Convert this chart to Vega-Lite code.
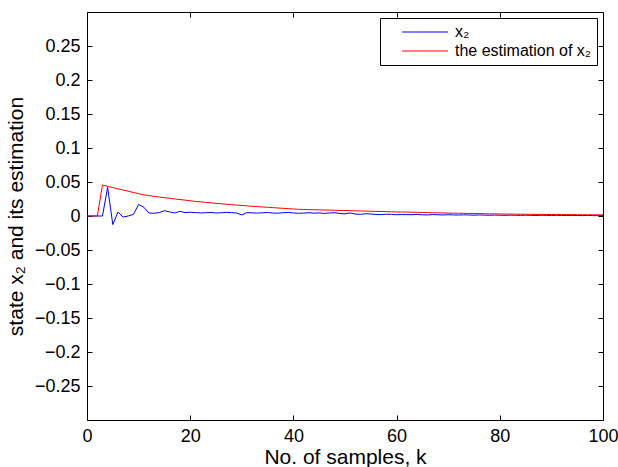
{
  "$schema": "https://vega.github.io/schema/vega-lite/v6.json",
  "width": 516,
  "height": 408,
  "autosize": {"type": "none"},
  "padding": {"left": 87, "top": 12, "right": 15, "bottom": 47},
  "background": "white",
  "config": {
    "font": "Liberation Sans",
    "view": {"stroke": "black", "strokeWidth": 1},
    "axis": {"grid": false, "domain": false, "tickColor": "black", "labelColor": "black", "titleColor": "black", "labelFontSize": 18, "titleFontSize": 21, "titleFontWeight": "normal", "tickSize": -5, "labelPadding": 12, "labelFlush": false, "labelOverlap": false}
  },
  "datasets": {
    "d": [
      {"k":0,"x2":0,"est":0},{"k":1,"x2":0,"est":0},{"k":2,"x2":0,"est":0},{"k":3,"x2":0,"est":0.0456},
      {"k":4,"x2":0.042,"est":0.0437},{"k":5,"x2":-0.0126,"est":0.0418},{"k":6,"x2":0.0058,"est":0.04},{"k":7,"x2":-0.0015,"est":0.0382},
      {"k":8,"x2":0.0,"est":0.0364},{"k":9,"x2":0.0024,"est":0.0346},{"k":10,"x2":0.017,"est":0.0328},{"k":11,"x2":0.013,"est":0.0312},
      {"k":12,"x2":0.0044,"est":0.03},{"k":13,"x2":0.004,"est":0.0289},{"k":14,"x2":0.005,"est":0.0279},{"k":15,"x2":0.0078,"est":0.0269},
      {"k":16,"x2":0.006,"est":0.026},{"k":17,"x2":0.0044,"est":0.0251},{"k":18,"x2":0.0068,"est":0.0242},{"k":19,"x2":0.005,"est":0.0233},
      {"k":20,"x2":0.0055,"est":0.0224},{"k":21,"x2":0.005,"est":0.0215},{"k":22,"x2":0.0045,"est":0.0208},{"k":23,"x2":0.0048,"est":0.0201},
      {"k":24,"x2":0.0052,"est":0.0194},{"k":25,"x2":0.0044,"est":0.0187},{"k":26,"x2":0.0047,"est":0.018},{"k":27,"x2":0.0053,"est":0.0173},
      {"k":28,"x2":0.0049,"est":0.0167},{"k":29,"x2":0.0045,"est":0.0161},{"k":30,"x2":0.0015,"est":0.0155},{"k":31,"x2":0.005,"est":0.0149},
      {"k":32,"x2":0.0046,"est":0.0143},{"k":33,"x2":0.0043,"est":0.0138},{"k":34,"x2":0.0047,"est":0.0133},{"k":35,"x2":0.0052,"est":0.0128},
      {"k":36,"x2":0.0044,"est":0.0123},{"k":37,"x2":0.0041,"est":0.0118},{"k":38,"x2":0.0048,"est":0.0113},{"k":39,"x2":0.0053,"est":0.0108},
      {"k":40,"x2":0.0045,"est":0.0103},{"k":41,"x2":0.004,"est":0.0098},{"k":42,"x2":0.0043,"est":0.0096},{"k":43,"x2":0.0048,"est":0.0094},
      {"k":44,"x2":0.0041,"est":0.0092},{"k":45,"x2":0.0046,"est":0.009},{"k":46,"x2":0.0038,"est":0.0088},{"k":47,"x2":0.0044,"est":0.0086},
      {"k":48,"x2":0.0049,"est":0.0084},{"k":49,"x2":0.0036,"est":0.0082},{"k":50,"x2":0.0032,"est":0.008},{"k":51,"x2":0.0045,"est":0.0078},
      {"k":52,"x2":0.0028,"est":0.0076},{"k":53,"x2":0.0025,"est":0.0074},{"k":54,"x2":0.0033,"est":0.0072},{"k":55,"x2":0.003,"est":0.007},
      {"k":56,"x2":0.0022,"est":0.0068},{"k":57,"x2":0.002,"est":0.0066},{"k":58,"x2":0.0026,"est":0.0064},{"k":59,"x2":0.0024,"est":0.0062},
      {"k":60,"x2":0.0018,"est":0.006},{"k":61,"x2":0.0022,"est":0.0059},{"k":62,"x2":0.002,"est":0.0058},{"k":63,"x2":0.0019,"est":0.0056},
      {"k":64,"x2":0.0023,"est":0.0054},{"k":65,"x2":0.0017,"est":0.0052},{"k":66,"x2":0.0016,"est":0.005},{"k":67,"x2":0.0021,"est":0.0048},
      {"k":68,"x2":0.0018,"est":0.0046},{"k":69,"x2":0.0015,"est":0.0044},{"k":70,"x2":0.0019,"est":0.0043},{"k":71,"x2":0.0016,"est":0.0042},
      {"k":72,"x2":0.0014,"est":0.004},{"k":73,"x2":0.0017,"est":0.0039},{"k":74,"x2":0.0015,"est":0.0038},{"k":75,"x2":0.0012,"est":0.0036},
      {"k":76,"x2":0.0016,"est":0.0035},{"k":77,"x2":0.0013,"est":0.0034},{"k":78,"x2":0.0011,"est":0.0032},{"k":79,"x2":0.0014,"est":0.0031},
      {"k":80,"x2":0.0012,"est":0.003},{"k":81,"x2":0.001,"est":0.0029},{"k":82,"x2":0.0013,"est":0.0028},{"k":83,"x2":0.0011,"est":0.0027},
      {"k":84,"x2":0.0009,"est":0.0026},{"k":85,"x2":0.0012,"est":0.0025},{"k":86,"x2":0.001,"est":0.0024},{"k":87,"x2":0.0008,"est":0.0023},
      {"k":88,"x2":0.0011,"est":0.0023},{"k":89,"x2":0.0009,"est":0.0022},{"k":90,"x2":0.0008,"est":0.0022},{"k":91,"x2":0.001,"est":0.0021},
      {"k":92,"x2":0.0008,"est":0.0021},{"k":93,"x2":0.0007,"est":0.002},{"k":94,"x2":0.0009,"est":0.002},{"k":95,"x2":0.0007,"est":0.0019},
      {"k":96,"x2":0.0006,"est":0.0019},{"k":97,"x2":0.0008,"est":0.0018},{"k":98,"x2":0.0006,"est":0.0018},{"k":99,"x2":0.0005,"est":0.0017},
      {"k":100,"x2":0.0006,"est":0.0017}
    ]
  },
  "data": {"name": "d"},
  "transform": [
    {"fold": ["x2", "est"], "as": ["key", "value"]},
    {"calculate": "datum.key === 'x2' ? 'x₂' : 'the estimation of x₂'", "as": "series"}
  ],
  "layer": [
    {
      "mark": {"type": "line", "strokeWidth": 1, "clip": true},
      "encoding": {
        "x": {"field": "k", "type": "quantitative", "scale": {"domain": [0, 100], "nice": false}, "axis": {"orient": "bottom", "values": [0, 20, 40, 60, 80, 100], "title": "No. of samples, k", "titlePadding": 1}},
        "y": {"field": "value", "type": "quantitative", "scale": {"domain": [-0.3, 0.3], "nice": false}, "axis": {"orient": "left", "values": [-0.25, -0.2, -0.15, -0.1, -0.05, 0, 0.05, 0.1, 0.15, 0.2, 0.25], "format": "~g", "title": "state x₂ and its estimation", "titlePadding": 8}},
        "color": {
          "field": "series", "type": "nominal",
          "scale": {"domain": ["x₂", "the estimation of x₂"], "range": ["#0000ff", "#ff0000"]},
          "legend": {"title": null, "orient": "top-right", "offset": 6, "strokeColor": "black", "fillColor": "white", "padding": 5, "symbolType": "stroke", "symbolSize": 2116, "symbolStrokeWidth": 1.2, "symbolOffset": 16, "clipHeight": 18, "rowPadding": 1, "labelFontSize": 16, "labelOffset": 6, "labelColor": "black"}
        }
      }
    },
    {
      "mark": {"type": "line", "opacity": 0},
      "encoding": {
        "x": {"field": "k", "type": "quantitative", "axis": {"orient": "top", "values": [0, 20, 40, 60, 80, 100], "labels": false, "title": null}},
        "y": {"field": "value", "type": "quantitative", "axis": {"orient": "right", "values": [-0.25, -0.2, -0.15, -0.1, -0.05, 0, 0.05, 0.1, 0.15, 0.2, 0.25], "labels": false, "title": null}},
        "detail": {"field": "series", "type": "nominal"}
      }
    }
  ],
  "resolve": {"axis": {"x": "independent", "y": "independent"}}
}
